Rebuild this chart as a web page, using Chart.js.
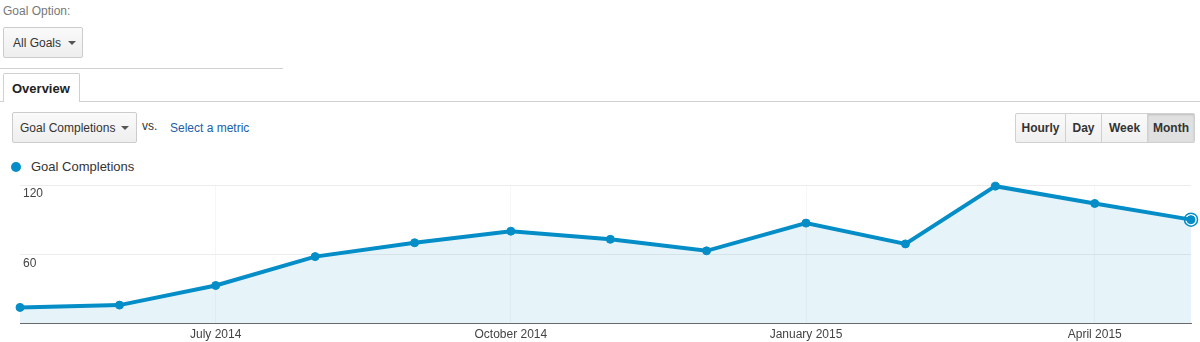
<!DOCTYPE html>
<html>
<head>
<meta charset="utf-8">
<script src="https://cdn.jsdelivr.net/npm/chart.js@4.4.1/dist/chart.umd.min.js"></script>
<style>
	html,body{margin:0;padding:0;background:#fff;width:1200px;height:342px;overflow:hidden;font-family:Arial,"Liberation Sans",sans-serif;font-size:12px;color:#333;}
	.abs{position:absolute;}
	.btn{box-sizing:border-box;border:1px solid #ccc;border-radius:2px;background:linear-gradient(#fafafa,#eeeeee);}
	.caret{position:absolute;width:0;height:0;border-left:4px solid transparent;border-right:4px solid transparent;border-top:4px solid #555;}
	#range{left:1015px;top:113px;height:30px;display:flex;}
	#range div{box-sizing:border-box;height:30px;line-height:28px;font-weight:bold;text-align:center;border:1px solid #d0d0d0;border-left:none;background:linear-gradient(#fafafa,#f0f0f0);}
	#range div:first-child{border-left:1px solid #d0d0d0;border-radius:2px 0 0 2px;}
	#range div.on{background:#e0e0e0;box-shadow:inset 0 1px 2px rgba(0,0,0,0.15);border-radius:0 2px 2px 0;}
	#wrap{left:0;top:180px;width:1200px;height:167px;}
</style>
</head>
<body>
<div class="abs" style="left:3px;top:4px;color:#777;">Goal Option:</div>
<div class="abs btn" style="left:3px;top:27px;width:80px;height:31px;">
	<span class="abs" style="left:9px;top:8px;">All Goals</span>
	<div class="caret" style="left:64px;top:13px;"></div>
</div>
<div class="abs" style="left:0;top:68px;width:283px;height:1px;background:#d0d0d0;"></div>
<div class="abs" style="left:0;top:101px;width:1200px;height:1px;background:#d0d0d0;"></div>
<div class="abs" style="left:3px;top:73px;width:77px;height:29px;box-sizing:border-box;border:1px solid #d0d0d0;border-bottom:none;background:#fff;border-radius:2px 2px 0 0;">
	<span class="abs" style="left:8px;top:7px;font-weight:bold;font-size:13px;color:#222;">Overview</span>
</div>
<div class="abs btn" style="left:12px;top:112px;width:125px;height:31px;">
	<span class="abs" style="left:7px;top:8px;">Goal Completions</span>
	<div class="caret" style="left:108px;top:13px;"></div>
</div>
<div class="abs" style="left:142px;top:119px;">vs.</div>
<div class="abs" style="left:170px;top:121px;color:#2060a8;">Select a metric</div>
<div class="abs" id="range">
	<div style="width:51px;">Hourly</div>
	<div style="width:36px;">Day</div>
	<div style="width:46px;">Week</div>
	<div class="on" style="width:47px;">Month</div>
</div>
<div class="abs" style="left:11px;top:162px;width:10px;height:10px;border-radius:50%;background:#058dc7;"></div>
<div class="abs" style="left:31px;top:159px;font-size:13px;color:#333;">Goal Completions</div>
<div class="abs" id="wrap"><canvas id="c" width="1200" height="167"></canvas></div>
<script>
// monthly goal completions, May 2014 .. May 2015
const monthStarts = ['2014-05-01','2014-06-01','2014-07-01','2014-08-01','2014-09-01','2014-10-01','2014-11-01','2014-12-01','2015-01-01','2015-02-01','2015-03-01','2015-04-01','2015-05-01'];
const goals = [14, 16, 33, 58, 70, 80, 73, 63, 87, 69, 119, 104, 90];
const tickMonths = ['2014-07-01','2014-10-01','2015-01-01','2015-04-01'];
const tickLabels = ['July 2014','October 2014','January 2015','April 2015'];
const yTicks = [60, 120];

const blue = '#058dc7';
const last = goals.length-1;

// x is days since the first month, so uneven month lengths show like GA does
const day0 = Date.parse(monthStarts[0]);
const toDay = s => Math.round((Date.parse(s) - day0) / 86400000);
const points = monthStarts.map((m,i) => ({x: toDay(m), y: goals[i]}));
const tickDays = tickMonths.map(toDay);

// y labels sit just under their grid line, inside the plot
const yLabels = {
	id: 'yLabels',
	afterDatasetsDraw(chart){
		const ctx = chart.ctx, y = chart.scales.y;
		ctx.save();
		ctx.font = '12px Arial, "Liberation Sans", sans-serif';
		ctx.fillStyle = '#444';
		ctx.textBaseline = 'top';
		yTicks.forEach(v => ctx.fillText(String(v), chart.chartArea.left + 3, y.getPixelForValue(v) + 3));
		ctx.restore();
	}
};

new Chart(document.getElementById('c'), {
	type: 'line',
	data: {
		datasets: [{
			data: points,
			borderColor: blue,
			borderWidth: 4,
			backgroundColor: 'rgba(5,141,199,0.1)',
			fill: 'origin',
			tension: 0,
			pointRadius: 4,
			pointBorderWidth: 1,
			pointBackgroundColor: blue,
			pointBorderColor: blue,
			clip: false
		},{
			// ring round the current month
			data: [points[last]],
			showLine: false,
			pointRadius: 6.5,
			pointBorderWidth: 1.5,
			pointBackgroundColor: '#fff',
			pointBorderColor: blue,
			clip: false
		}]
	},
	options: {
		responsive: false,
		animation: false,
		events: [],
		layout: {autoPadding: false, padding: {left: 20, right: 9, top: 5, bottom: 1}},
		plugins: {legend: {display: false}, tooltip: {enabled: false}},
		scales: {
			x: {
				type: 'linear',
				min: 0,
				max: points[last].x,
				afterBuildTicks: s => { s.ticks = tickDays.map(v => ({value: v})); },
				grid: {drawTicks: false, color: '#f6f6f6'},
				border: {color: '#6a6a6a', width: 1},
				ticks: {
					autoSkip: false,
					maxRotation: 0,
					padding: 4,
					color: '#444',
					font: {family: 'Arial, "Liberation Sans", sans-serif', size: 12},
					callback: v => tickLabels[tickDays.indexOf(v)]
				}
			},
			y: {
				min: 0,
				max: 120,
				border: {display: false},
				grid: {drawTicks: false, color: c => c.tick.value === 0 ? 'transparent' : '#ececec'},
				ticks: {display: false, stepSize: 60},
				afterFit: s => { s.width = 0; }
			}
		}
	},
	plugins: [yLabels]
});
</script>
</body>
</html>
